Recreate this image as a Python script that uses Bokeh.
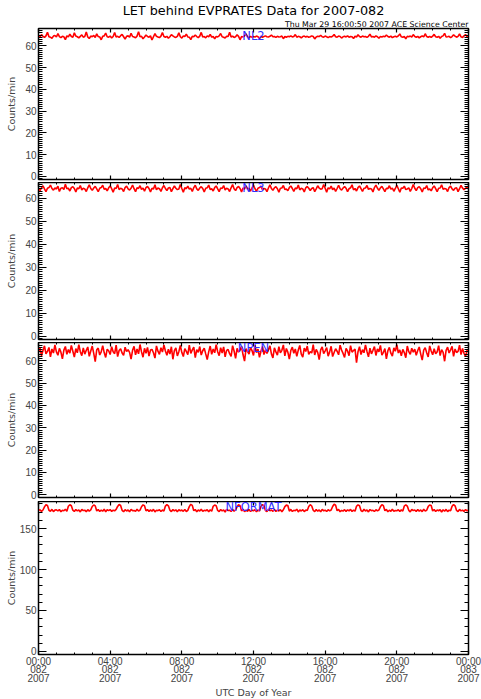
from bokeh.plotting import figure
from bokeh.layouts import column
from bokeh.models import Range1d, FixedTicker, LinearAxis, Label, Title, CustomJSTickFormatter
from bokeh.embed import file_html
from bokeh.resources import INLINE

title_text = "LET behind EVPRATES Data for 2007-082"
subtitle_text = "Thu Mar 29 16:00:50 2007 ACE Science Center"
y_label = "Counts/min"
x_label = "UTC Day of Year"
panel_names = ["NL2", "NL3", "NPEN", "NFORMAT"]

tick_hours = [0, 4, 8, 12, 16, 20, 24]
tick_labels = ["00:00\n082\n2007", "04:00\n082\n2007", "08:00\n082\n2007",
               "12:00\n082\n2007", "16:00\n082\n2007", "20:00\n082\n2007",
               "00:00\n083\n2007"]

# 5-minute samples, 00:00 day 082 through 00:00 day 083
nl2 = [
    64.3, 64.1, 65.2, 64.4, 63.9, 64.6, 66.3, 64.2, 64.0, 63.5, 64.5, 64.8,
    64.1, 65.7, 64.3, 63.8, 64.4, 64.2, 62.9, 64.6, 64.1, 65.4, 64.3, 64.0,
    66.0, 64.5, 64.2, 63.7, 64.4, 65.1, 64.0, 64.3, 66.4, 64.1, 63.4, 64.5,
    64.2, 64.8, 63.9, 65.5, 64.3, 64.1, 62.8, 64.4, 64.6, 65.9, 64.2, 64.0,
    64.5, 63.6, 64.3, 66.2, 64.1, 64.4, 63.9, 64.7, 65.3, 64.2, 63.1, 64.4,
    64.6, 64.0, 65.8, 64.3, 64.1, 63.7, 64.5, 66.5, 64.2, 64.4, 63.3, 64.1,
    65.0, 64.3, 64.0, 64.6, 62.7, 64.2, 65.6, 64.4, 64.1, 63.8, 64.5, 66.1,
    64.3, 64.0, 64.4, 63.5, 64.2, 65.2, 64.6, 64.1, 63.9, 64.4, 66.0, 64.2,
    63.6, 64.5, 64.3, 65.4, 64.1, 64.0, 62.9, 64.4, 64.2, 65.0, 64.3, 63.8,
    64.5, 66.2, 64.1, 64.3, 63.7, 64.6, 64.2, 65.3, 64.0, 64.4, 63.2, 64.3,
    64.1, 64.6, 65.7, 64.2, 64.0, 63.6, 64.4, 64.3, 66.3, 64.1, 64.5, 63.9,
    64.2, 65.1, 64.4, 62.8, 64.3, 64.1, 64.6, 65.5, 64.2, 63.8, 64.4, 64.0,
    64.3, 64.1, 64.5, 64.2, 63.4, 64.4, 64.0, 64.3, 64.6, 64.2, 64.1, 64.4,
    65.0, 64.2, 64.3, 63.9, 64.4, 64.1, 64.2, 64.5, 63.3, 64.3, 64.0, 64.4,
    64.2, 64.6, 64.1, 64.3, 65.2, 64.0, 64.4, 64.2, 63.7, 64.3, 64.5, 64.1,
    64.4, 64.0, 64.2, 64.6, 64.3, 63.2, 64.1, 64.4, 64.3, 64.9, 64.2, 64.0,
    64.5, 64.2, 63.8, 64.3, 64.1, 64.4, 65.3, 64.2, 64.0, 64.5, 64.3, 63.6,
    64.2, 64.4, 64.1, 64.6, 64.0, 64.3, 64.2, 63.4, 64.4, 64.1, 65.1, 64.3,
    64.0, 64.5, 64.2, 64.3, 63.9, 64.4, 65.4, 64.1, 64.3, 64.0, 64.6, 64.2,
    63.5, 64.3, 64.1, 64.4, 64.2, 65.0, 64.3, 64.0, 64.5, 63.8, 64.2, 64.4,
    64.1, 64.6, 65.5, 64.2, 64.0, 64.3, 63.3, 64.4, 64.2, 64.5, 64.1, 65.2,
    64.3, 64.0, 64.4, 63.7, 64.2, 64.6, 64.1, 65.6, 64.3, 64.0, 64.4, 63.9,
    64.5, 65.3, 64.2, 64.0, 64.4, 63.5, 64.3, 64.6, 65.8, 64.1, 64.2, 64.4,
    63.8, 64.3, 65.1, 64.5, 64.0, 64.4, 65.5, 64.2, 63.9, 64.6, 65.2, 64.3,
    64.4,
]
nl3 = [
    64.1, 63.3, 64.5, 65.4, 64.0, 62.8, 64.3, 64.6, 65.7, 64.2, 63.5, 64.4,
    64.0, 65.2, 62.9, 64.3, 64.5, 63.8, 66.0, 64.1, 64.3, 63.1, 64.6, 65.0,
    64.2, 62.7, 64.4, 64.1, 65.5, 63.6, 64.3, 64.0, 62.9, 64.5, 65.8, 64.2,
    63.4, 64.4, 65.1, 64.0, 62.8, 64.3, 64.6, 65.6, 63.9, 64.2, 63.2, 64.5,
    65.3, 64.1, 62.6, 64.4, 64.2, 65.9, 63.7, 64.3, 64.0, 62.9, 64.6, 65.2,
    64.0, 63.5, 64.3, 65.7, 64.1, 62.8, 64.5, 64.2, 65.4, 63.8, 64.4, 63.0,
    64.6, 65.1, 64.2, 62.7, 64.3, 64.0, 65.8, 63.6, 64.4, 64.1, 62.9, 64.5,
    65.5, 64.2, 63.3, 64.4, 64.6, 62.8, 64.1, 65.3, 64.3, 63.7, 64.0, 65.9,
    64.2, 62.6, 64.5, 64.1, 65.2, 63.9, 64.3, 62.9, 64.6, 65.6, 64.0, 63.4,
    64.4, 65.0, 64.2, 62.7, 64.3, 64.5, 65.7, 63.8, 64.1, 63.1, 64.6, 65.3,
    64.0, 62.8, 64.4, 64.2, 65.5, 63.6, 64.3, 64.0, 62.9, 64.5, 65.9, 64.1,
    63.3, 64.6, 65.1, 64.2, 62.7, 64.4, 64.0, 65.4, 63.9, 64.3, 63.0, 64.5,
    65.6, 64.1, 62.9, 64.3, 64.6, 65.2, 63.7, 64.2, 64.0, 62.8, 64.4, 65.8,
    64.2, 63.4, 64.5, 65.0, 64.1, 62.6, 64.3, 64.4, 65.5, 63.8, 64.0, 63.2,
    64.6, 65.3, 64.2, 62.9, 64.4, 64.1, 65.7, 63.6, 64.3, 64.0, 62.7, 64.5,
    65.1, 64.3, 63.3, 64.2, 64.6, 62.8, 64.0, 65.4, 64.4, 63.9, 64.1, 65.9,
    64.3, 62.6, 64.5, 64.0, 65.2, 63.7, 64.4, 62.9, 64.2, 65.6, 64.1, 63.5,
    64.4, 65.0, 64.3, 62.8, 64.1, 64.5, 65.8, 63.6, 64.2, 63.1, 64.6, 65.3,
    64.1, 62.9, 64.3, 64.4, 65.5, 63.8, 64.2, 64.0, 62.7, 64.6, 65.7, 64.3,
    63.4, 64.5, 65.1, 64.0, 62.8, 64.3, 64.1, 65.4, 63.9, 64.4, 63.0, 64.2,
    65.6, 64.1, 62.6, 64.4, 64.3, 65.2, 63.7, 64.0, 64.5, 62.9, 64.2, 65.9,
    64.3, 63.3, 64.6, 65.0, 64.1, 62.7, 64.4, 64.2, 65.5, 63.6, 64.0, 63.2,
    64.5, 65.3, 64.1, 62.8, 64.3, 64.4, 65.8, 63.9, 64.2, 64.0, 62.9, 64.6,
    65.2, 64.0, 63.4, 64.3, 64.5, 62.8, 64.1, 65.6, 64.4, 63.7, 64.2, 65.0,
    64.3,
]
npen = [
    63.8, 65.9, 62.2, 64.6, 66.7, 63.1, 64.2, 66.0, 61.8, 65.3, 63.5, 67.1,
    64.0, 62.5, 65.6, 63.9, 60.9, 64.8, 66.4, 62.9, 65.1, 63.4, 66.9, 64.3,
    61.7, 65.5, 63.6, 67.2, 64.1, 62.3, 65.8, 63.0, 64.7, 66.2, 62.0, 64.4,
    66.6, 63.3, 59.6, 64.9, 65.7, 62.6, 64.0, 66.8, 63.7, 61.5, 65.2, 64.5,
    62.8, 66.3, 64.1, 63.2, 67.0, 61.9, 64.6, 65.4, 63.5, 62.4, 66.1, 64.2,
    65.0, 63.8, 60.8, 64.7, 66.5, 62.7, 65.3, 63.1, 67.3, 64.0, 61.6, 65.6,
    63.4, 66.0, 62.1, 64.8, 65.1, 63.6, 61.2, 66.7, 64.3, 62.9, 65.9, 63.9,
    67.1, 64.4, 62.5, 65.2, 63.0, 66.3, 60.7, 64.6, 65.8, 62.2, 64.1, 66.9,
    63.7, 61.9, 65.5, 64.2, 62.8, 67.0, 63.3, 64.9, 66.1, 61.4, 65.0, 63.8,
    66.4, 62.6, 64.5, 65.7, 63.1, 60.6, 64.0, 66.6, 62.9, 65.3, 63.6, 67.2,
    64.1, 62.3, 65.9, 63.5, 66.2, 61.8, 64.7, 65.1, 63.2, 62.0, 66.8, 64.4,
    61.1, 65.6, 63.9, 64.8, 66.5, 62.7, 59.9, 65.4, 64.2, 63.0, 66.0, 64.6,
    62.4, 67.0, 63.7, 65.2, 61.6, 64.3, 66.4, 62.8, 65.0, 63.3, 64.9, 66.7,
    63.1, 61.3, 65.8, 64.0, 62.5, 66.3, 63.6, 64.7, 67.1, 62.2, 65.5, 63.9,
    60.8, 64.6, 66.1, 63.4, 65.3, 62.0, 64.8, 66.9, 63.0, 61.7, 65.7, 64.2,
    66.6, 62.9, 64.1, 63.5, 67.2, 62.6, 65.1, 63.8, 60.5, 64.9, 66.2, 63.2,
    64.5, 65.9, 62.1, 64.0, 66.5, 61.9, 63.7, 65.4, 64.3, 62.7, 67.0, 64.8,
    63.3, 61.5, 65.6, 64.4, 62.3, 66.8, 63.9, 64.6, 65.2, 59.2, 64.1, 66.3,
    62.8, 65.0, 63.6, 67.1, 64.2, 61.8, 65.7, 63.1, 64.7, 66.4, 62.4, 65.3,
    64.0, 66.9, 62.6, 63.8, 65.5, 60.9, 64.5, 66.0, 63.4, 62.1, 65.8, 64.3,
    67.2, 63.5, 64.9, 62.2, 65.1, 63.7, 61.4, 66.6, 64.1, 62.9, 65.6, 63.9,
    65.2, 62.5, 64.6, 66.2, 63.0, 60.3, 64.8, 65.9, 63.6, 61.7, 66.7, 64.4,
    62.7, 65.4, 63.2, 64.0, 66.8, 62.3, 65.0, 63.8, 59.8, 64.7, 66.1, 63.5,
    64.9, 66.5, 62.0, 65.3, 63.7, 64.2, 67.0, 62.8, 65.5, 63.4, 61.9, 64.6,
    65.1,
]
nformat = [
    171.8, 173.0, 170.9, 172.6, 176.4, 179.1, 178.2, 172.3, 171.1, 173.4, 170.7, 172.5,
    172.9, 171.4, 173.3, 170.5, 172.2, 171.7, 173.6, 171.0, 177.2, 179.0, 177.8, 172.4,
    170.8, 173.1, 171.6, 172.7, 170.3, 173.5, 171.9, 172.4, 170.6, 173.0, 171.3, 172.8,
    176.9, 178.8, 177.6, 171.5, 173.2, 170.8, 172.6, 171.2, 173.7, 170.4, 172.9, 171.8,
    173.1, 170.9, 172.4, 171.6, 173.3, 177.0, 179.3, 178.1, 172.2, 170.6, 173.0, 171.4,
    172.7, 170.5, 173.4, 171.8, 172.1, 170.9, 173.6, 171.3, 172.5, 176.6, 178.9, 177.9,
    171.6, 173.2, 170.7, 172.8, 171.1, 173.5, 170.4, 172.3, 171.9, 173.0, 170.8, 172.6,
    171.3, 177.4, 179.2, 177.7, 172.4, 170.6, 173.3, 171.5, 172.9, 170.3, 173.1, 171.7,
    172.5, 171.0, 173.4, 170.8, 172.2, 176.8, 179.6, 178.3, 171.8, 173.2, 170.5, 172.7,
    171.4, 173.6, 170.9, 172.3, 171.7, 173.0, 170.6, 172.8, 171.2, 177.1, 178.7, 177.9,
    172.1, 170.7, 173.3, 171.5, 172.6, 170.2, 173.5, 171.9, 172.4, 170.8, 173.1, 171.3,
    172.8, 176.5, 179.0, 178.0, 171.6, 173.4, 170.6, 172.5, 171.1, 173.2, 170.9, 172.3,
    171.7, 173.0, 170.4, 172.7, 171.3, 177.3, 179.4, 177.6, 172.0, 170.7, 173.5, 171.8,
    172.6, 171.0, 173.3, 170.8, 172.4, 171.5, 173.1, 170.5, 172.9, 176.7, 178.6, 178.2,
    171.2, 173.4, 170.9, 172.2, 171.7, 173.6, 170.3, 172.8, 171.4, 173.0, 170.7, 172.5,
    171.9, 177.0, 179.1, 177.5, 172.3, 170.6, 173.2, 171.1, 172.7, 170.4, 173.5, 171.6,
    172.4, 170.8, 173.0, 171.5, 172.6, 176.9, 179.7, 178.4, 171.8, 173.3, 170.5, 172.2,
    171.3, 173.1, 170.7, 172.9, 171.6, 173.4, 170.9, 172.5, 171.2, 177.2, 178.9, 177.8,
    172.0, 170.6, 173.5, 171.4, 172.7, 170.3, 173.2, 171.8, 172.3, 170.8, 173.0, 171.5,
    172.6, 176.6, 179.2, 177.9, 171.7, 173.3, 170.5, 172.4, 171.0, 173.6, 170.9, 172.1,
    171.6, 173.0, 170.7, 172.8, 171.3, 177.5, 179.0, 177.4, 172.2, 170.4, 173.4, 171.9,
    172.5, 170.9, 173.1, 171.2, 172.7, 170.6, 173.5, 171.5, 172.3, 176.8, 178.8, 178.1,
    171.4, 173.2, 170.8, 172.6, 171.7, 173.0, 170.2, 172.9, 171.1, 173.4, 170.6, 172.4,
    171.8, 177.1, 179.3, 177.7, 172.1, 170.7, 173.3, 171.6, 172.5, 170.9, 173.1, 171.5,
    172.6,
]

series = [nl2, nl3, npen, nformat]
y_ranges = [(-1.5, 68.0), (-1.4, 66.8), (-1.2, 68.2), (-3.7, 183.0)]
y_major = [list(range(0, 61, 10))] * 3 + [[0, 50, 100, 150]]
y_minor = [list(range(-1, 69))] * 3 + [list(range(0, 181, 10))]

# layout (frame height, top border, bottom border, label centre offset px)
frame_h = [151, 157, 155, 153]
top_b = [24, 0, 0, 0]
bot_b = [3, 3, 4, 48]
lab_off = [7.0, 5.0, 5.0, 5.2]
FRAME_W = 430

TICK_FONT = "Liberation Sans"
LAB_FONT = "DejaVu Sans"

hide = CustomJSTickFormatter(code="return ''")

figs = []
for i in range(4):
    y0, y1 = y_ranges[i]
    p = figure(frame_width=FRAME_W, frame_height=frame_h[i],
               min_border_left=38, min_border_right=13,
               min_border_top=top_b[i], min_border_bottom=bot_b[i],
               x_range=Range1d(0, 24), y_range=Range1d(y0, y1),
               output_backend="svg", toolbar_location=None, title=None)
    p.grid.visible = False
    p.outline_line_color = "black"
    p.outline_line_width = 1.5
    p.background_fill_color = "white"
    p.border_fill_color = "white"

    hours = [k / 12 for k in range(len(series[i]))]
    p.line(hours, series[i], line_color="#ff0000", line_width=1.6)

    yt = FixedTicker(ticks=y_major[i], minor_ticks=y_minor[i])
    xt = FixedTicker(ticks=tick_hours, minor_ticks=list(range(25)))

    ya = p.yaxis[0]
    ya.ticker = yt
    ya.axis_label = y_label
    ya.axis_label_text_font = LAB_FONT
    ya.axis_label_text_font_size = "9.5px"
    ya.axis_label_text_font_style = "normal"
    ya.axis_label_standoff = 0 if i == 3 else 5
    ya.major_label_text_font = TICK_FONT
    ya.major_label_text_font_size = "10px"
    ya.major_label_standoff = 2

    ra = LinearAxis(ticker=yt, formatter=hide)
    p.add_layout(ra, "right")

    xa = p.xaxis[0]
    xa.ticker = xt
    ta = LinearAxis(ticker=xt, formatter=hide)
    p.add_layout(ta, "above")

    for ax in (ya, ra):
        ax.major_tick_in = 8
        ax.major_tick_out = 0
        ax.minor_tick_in = 4
        ax.minor_tick_out = 0
        ax.major_tick_line_width = 1.2
        ax.minor_tick_line_width = 1
    for ax in (xa, ta):
        ax.major_tick_in = 4
        ax.major_tick_out = 0
        ax.minor_tick_in = 2
        ax.minor_tick_out = 0
        ax.major_tick_line_width = 1.2
    for ax in (ra, ta):
        ax.major_label_text_font_size = "0px"
        ax.major_label_standoff = 0

    if i == 3:
        xa.major_label_overrides = {h: t for h, t in zip(tick_hours, tick_labels)}
        xa.major_label_text_font = TICK_FONT
        xa.major_label_text_font_size = "10px"
        xa.major_label_text_line_height = 0.8
        xa.major_label_standoff = 1
        xa.axis_label = x_label
        xa.axis_label_text_font = LAB_FONT
        xa.axis_label_text_font_size = "9.5px"
        xa.axis_label_text_font_style = "normal"
        xa.axis_label_standoff = 0
    else:
        xa.formatter = hide
        xa.major_label_text_font_size = "0px"
        xa.major_label_standoff = 0

    ly = y1 - lab_off[i] * (y1 - y0) / frame_h[i]
    p.add_layout(Label(x=12, y=ly, text=panel_names[i], text_align="center",
                       text_baseline="middle", text_color="#3030ff",
                       text_font=LAB_FONT, text_font_size="11.5px"))

    if i == 0:
        p.add_layout(Title(text=subtitle_text, align="right", text_font=LAB_FONT,
                           text_font_size="7.8px", text_font_style="normal",
                           text_color="black", standoff=0), "above")
        p.add_layout(Title(text=title_text, align="center", text_font=LAB_FONT,
                           text_font_size="12.8px", text_font_style="normal",
                           text_color="black", standoff=0), "above")
    figs.append(p)

layout = column(*figs, spacing=0)
open("out.html", "w").write(file_html(layout, INLINE))
